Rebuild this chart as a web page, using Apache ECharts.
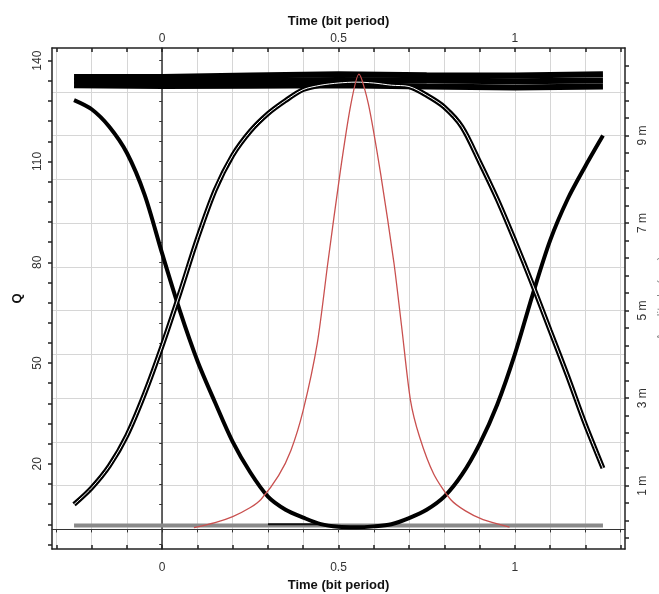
<!DOCTYPE html>
<html>
<head>
<meta charset="utf-8">
<title>Eye diagram - Q factor</title>
<script src="https://cdn.jsdelivr.net/npm/echarts@6/dist/echarts.min.js"></script>
<style>
  html, body { margin: 0; padding: 0; background: #fff; }
  #chart { width: 659px; height: 594px; }
</style>
</head>
<body>
<div id="chart"></div>
<script>
// Sample times (bit period) for the eye traces
var timeSamples = [-0.25, -0.2, -0.15, -0.1, -0.05, 0, 0.05, 0.1, 0.15, 0.2, 0.25, 0.3, 0.35, 0.4, 0.45, 0.5,
  0.55, 0.6, 0.65, 0.7, 0.75, 0.8, 0.85, 0.9, 0.95, 1.0, 1.05, 1.1, 1.15, 1.2, 1.25];

// Eye traces, amplitude in m (a.u.)
var trace101 = [9.81, 9.6, 9.2, 8.6, 7.65, 6.3, 5.0, 3.85, 2.9, 2.0, 1.3, 0.75, 0.45, 0.27, 0.12, 0.06,
  0.05, 0.07, 0.12, 0.26, 0.45, 0.75, 1.25, 1.95, 2.85, 4.0, 5.35, 6.6, 7.55, 8.3, 9.0];
var trace010 = [0.57, 0.95, 1.45, 2.15, 3.1, 4.2, 5.4, 6.65, 7.75, 8.55, 9.1, 9.5, 9.8, 10.05, 10.15, 10.2,
  10.22, 10.2, 10.15, 10.12, 9.92, 9.65, 9.2, 8.4, 7.55, 6.6, 5.6, 4.55, 3.5, 2.4, 1.4];

// Flat "1" and "0" levels
var levelTimes = [-0.25, 0, 0.25, 0.5, 0.75, 1.0, 1.25];
var oneHigh = [10.34, 10.34, 10.37, 10.4, 10.38, 10.37, 10.4];
var oneMid = [10.25, 10.24, 10.25, 10.27, 10.26, 10.24, 10.26];
var oneLow = [10.15, 10.13, 10.14, 10.15, 10.12, 10.1, 10.12];
var zeroLevel = [0.09, 0.09, 0.09, 0.09, 0.09, 0.09, 0.09];
var floorTimes = [0.3, 0.44];
var floorLevel = [0.12, 0.12];

// Q factor vs time
var qTimes = [0.09, 0.15, 0.2, 0.25, 0.28, 0.33, 0.365, 0.4, 0.44, 0.47, 0.505, 0.535, 0.558,
  0.585, 0.62, 0.657, 0.68, 0.704, 0.73, 0.77, 0.818, 0.86, 0.91, 0.985];
var qValues = [1, 2.5, 4.3, 7, 9.4, 16.5, 24, 36, 56, 80, 107, 127, 136,
  127, 106, 80, 60, 39, 28, 17, 9.4, 6, 3.4, 1.2];

// Axis ticks and labels
var timeTicks = [-0.3, -0.2, -0.1, 0, 0.1, 0.2, 0.3, 0.4, 0.5, 0.6, 0.7, 0.8, 0.9, 1.0, 1.1, 1.2, 1.3];
var timeLabels = [0, 0.5, 1];
var qTicks = [-4, 2, 8, 14, 20, 26, 32, 38, 44, 50, 56, 62, 68, 74, 80, 86, 92, 98, 104, 110, 116, 122, 128, 134, 140];
var qLabels = [20, 50, 80, 110, 140];
var ampTicks = [-0.2, 0.2, 0.6, 1.0, 1.4, 1.8, 2.2, 2.6, 3.0, 3.4, 3.8, 4.2, 4.6, 5.0, 5.4, 5.8, 6.2, 6.6,
  7.0, 7.4, 7.8, 8.2, 8.6, 9.0, 9.4, 9.8, 10.2, 10.6];
var ampLabels = [1, 3, 5, 7, 9];
var ampGrid = [1, 2, 3, 4, 5, 6, 7, 8, 9, 10];

function pairs(xs, ys) {
  return xs.map(function (x, i) { return [x, ys[i]]; });
}

var chart = echarts.init(document.getElementById('chart'));

var FONT = 'Liberation Sans, Arial, sans-serif';
var frameLine = { color: '#222', width: 1.5 };
var gridLine = { color: '#d6d6d6', width: 1 };

var timeAxis = function (pos) {
  return {
    type: 'value',
    position: pos,
    min: -0.3125,
    max: 1.3125,
    name: 'Time (bit period)',
    nameLocation: 'middle',
    nameGap: pos === 'top' ? 17 : 28,
    nameTextStyle: { fontFamily: FONT, fontSize: 13, fontWeight: 'bold', color: '#111' },
    axisLine: { show: true, onZero: false, lineStyle: frameLine },
    axisTick: { show: true, inside: true, length: 4, customValues: timeTicks, lineStyle: { color: '#222', width: 1.5 } },
    axisLabel: { show: true, customValues: timeLabels, margin: pos === 'top' ? 3 : 13,
      fontFamily: FONT, fontSize: 12, color: '#333' },
    splitLine: { show: pos === 'bottom', lineStyle: gridLine }
  };
};

var option = {
  animation: false,
  backgroundColor: '#fff',
  grid: { left: 52, right: 34, top: 48, bottom: 45, containLabel: false, outerBoundsMode: 'none' },
  xAxis: [
    timeAxis('bottom'),
    timeAxis('top'),
    {
      // zero line of the amplitude axis
      type: 'value', position: 'bottom', min: -0.3125, max: 1.3125,
      axisLine: { show: true, onZero: true, onZeroAxisIndex: 1, lineStyle: { color: '#333', width: 1 } },
      axisTick: { show: true, length: 3, customValues: timeTicks, lineStyle: { color: '#333' } },
      axisLabel: { show: false },
      splitLine: { show: false }
    }
  ],
  yAxis: [
    {
      type: 'value', position: 'left', min: -5.34, max: 143.78,
      name: 'Q', nameLocation: 'middle', nameGap: 27,
      nameTextStyle: { fontFamily: FONT, fontSize: 13, fontWeight: 'bold', color: '#111' },
      axisLine: { show: true, onZero: false, lineStyle: frameLine },
      axisTick: { show: true, length: 4, customValues: qTicks, lineStyle: { color: '#222', width: 1.5 } },
      axisLabel: { show: true, customValues: qLabels, rotate: 90, margin: 8,
        fontFamily: FONT, fontSize: 12, color: '#333' },
      splitLine: { show: false }
    },
    {
      type: 'value', position: 'right', min: -0.447, max: 11.0,
      name: 'Amplitude (a.u.)', nameLocation: 'middle', nameGap: 29,
      nameTextStyle: { fontFamily: FONT, fontSize: 12, color: '#888' },
      axisLine: { show: true, onZero: false, lineStyle: frameLine },
      axisTick: { show: true, length: 4, customValues: ampTicks, lineStyle: { color: '#222', width: 1.5 } },
      axisLabel: { show: true, customValues: ampLabels, rotate: 90, margin: 12,
        formatter: function (v) { return v + ' m'; },
        fontFamily: FONT, fontSize: 12, color: '#333' },
      splitLine: { show: false }
    },
    {
      // vertical line at time 0
      type: 'value', position: 'left', min: -5.34, max: 143.78,
      axisLine: { show: true, onZero: true, onZeroAxisIndex: 0, lineStyle: { color: '#333', width: 1.5 } },
      axisTick: { show: true, length: 3, customValues: qTicks, lineStyle: { color: '#333' } },
      axisLabel: { show: false },
      splitLine: { show: false }
    },
    {
      // horizontal grid lines
      type: 'value', position: 'right', min: -0.447, max: 11.0,
      axisLine: { show: false, onZero: false },
      axisTick: { show: false, customValues: ampGrid },
      axisLabel: { show: false },
      splitLine: { show: true, lineStyle: gridLine }
    }
  ],
  series: [
    {
      name: 'zero', type: 'line', xAxisIndex: 0, yAxisIndex: 1, showSymbol: false,
      data: pairs(levelTimes, zeroLevel),
      lineStyle: { color: '#8a8a8a', width: 4 }
    },
    {
      name: 'floor', type: 'line', xAxisIndex: 0, yAxisIndex: 1, showSymbol: false,
      data: pairs(floorTimes, floorLevel),
      lineStyle: { color: '#111', width: 2 }
    },
    {
      name: 'one high', type: 'line', xAxisIndex: 0, yAxisIndex: 1, showSymbol: false,
      data: pairs(levelTimes, oneHigh), lineStyle: { color: '#000', width: 6 }
    },
    {
      name: 'one mid', type: 'line', xAxisIndex: 0, yAxisIndex: 1, showSymbol: false,
      data: pairs(levelTimes, oneMid), lineStyle: { color: '#000', width: 6 }
    },
    {
      name: 'one low', type: 'line', xAxisIndex: 0, yAxisIndex: 1, showSymbol: false,
      data: pairs(levelTimes, oneLow), lineStyle: { color: '#000', width: 6 }
    },
    {
      name: '101', type: 'line', xAxisIndex: 0, yAxisIndex: 1, showSymbol: false, smooth: 0.3,
      data: pairs(timeSamples, trace101), lineStyle: { color: '#000', width: 4 }
    },
    {
      name: '010', type: 'line', xAxisIndex: 0, yAxisIndex: 1, showSymbol: false, smooth: 0.3,
      data: pairs(timeSamples, trace010), lineStyle: { color: '#000', width: 5 }
    },
    {
      name: '010 core', type: 'line', xAxisIndex: 0, yAxisIndex: 1, showSymbol: false, smooth: 0.3,
      data: pairs(timeSamples, trace010), lineStyle: { color: '#fff', width: 1 }
    },
    {
      name: 'Q', type: 'line', xAxisIndex: 0, yAxisIndex: 0, showSymbol: false, smooth: 0.25,
      data: pairs(qTimes, qValues), lineStyle: { color: '#c9504f', width: 1.3 }
    }
  ]
};

chart.setOption(option);
window.addEventListener('resize', function () { chart.resize(); });
</script>
</body>
</html>
